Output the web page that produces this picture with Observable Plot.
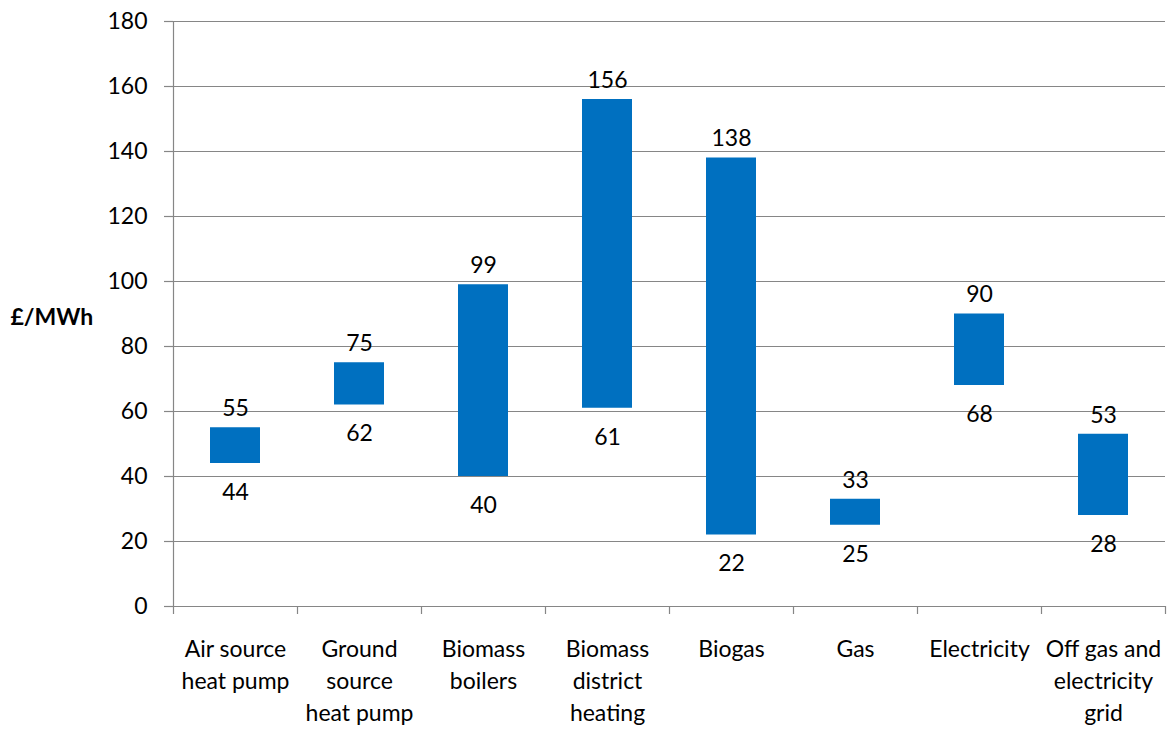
<!DOCTYPE html>
<html>
<head>
<meta charset="utf-8">
<script src="https://cdn.jsdelivr.net/npm/d3@7"></script>
<script src="https://cdn.jsdelivr.net/npm/@observablehq/plot@0.6"></script>
<style>
  html, body { margin: 0; padding: 0; background: #fff; }
  #chart svg { display: block; }
</style>
</head>
<body>
<div id="chart"></div>
<script>
// Heat technology cost ranges (£/MWh): low and high estimate per technology
const categories = [
  "Air source heat pump",
  "Ground source heat pump",
  "Biomass boilers",
  "Biomass district heating",
  "Biogas",
  "Gas",
  "Electricity",
  "Off gas and electricity grid"
];
const tickLabels = [
  "Air source\nheat pump",
  "Ground\nsource\nheat pump",
  "Biomass\nboilers",
  "Biomass\ndistrict\nheating",
  "Biogas",
  "Gas",
  "Electricity",
  "Off gas and\nelectricity\ngrid"
];
const lowCost = [44, 62, 40, 61, 22, 25, 68, 28];
const highCost = [55, 75, 99, 156, 138, 33, 90, 53];
const yTicks = [0, 20, 40, 60, 80, 100, 120, 140, 160, 180];
const yLabel = "£/MWh";

const width = 1171;
const height = 729;
const margin = {top: 21, right: 6, bottom: 123, left: 173};
const band = (width - margin.left - margin.right) / categories.length;

const rows = categories.map((category, i) => ({category, low: lowCost[i], high: highCost[i]}));
const lineColor = "#868686";
const barColor = "#0070C0";

const chart = Plot.plot({
  width,
  height,
  marginTop: margin.top,
  marginRight: margin.right,
  marginBottom: margin.bottom,
  marginLeft: margin.left,
  style: {fontFamily: "Lato, sans-serif", fontSize: "23px", color: "#000", background: "#fff"},
  x: {type: "band", domain: categories, padding: 0, label: null},
  y: {domain: [0, 180], label: null},
  marks: [
    // horizontal gridlines (the one at 0 doubles as the category axis line)
    Plot.gridY(yTicks, {stroke: lineColor, strokeOpacity: 1, strokeWidth: 1.2}),
    // value axis: outward ticks and labels
    Plot.axisY(yTicks, {tickSize: 9, tickPadding: 17, stroke: lineColor, strokeWidth: 1.2, fill: "#000", label: null}),
    // value axis line, running down past the baseline like the category ticks
    Plot.ruleX([categories[0]], {dx: -band / 2, y1: 180, y2: 0, insetBottom: -8, stroke: lineColor, strokeWidth: 1.2}),
    // category boundary ticks below the baseline
    Plot.ruleX(categories.slice(1), {dx: -band / 2, y1: 0, y2: 0, insetBottom: -8, stroke: lineColor, strokeWidth: 1.2}),
    Plot.ruleX([categories[categories.length - 1]], {dx: band / 2, y1: 0, y2: 0, insetBottom: -8, stroke: lineColor, strokeWidth: 1.2}),
    // floating cost-range bars
    Plot.barY(rows, {x: "category", y1: "low", y2: "high", fill: barColor, insetLeft: 37, insetRight: 37}),
    // range labels
    Plot.text(rows, {x: "category", y: "high", text: (d) => String(d.high), dy: -19, fill: "#000"}),
    Plot.text(rows, {x: "category", y: "low", text: (d) => String(d.low), dy: 29, fill: "#000"}),
    // category labels
    Plot.axisX({
      tickSize: 0,
      tickPadding: 27,
      tickFormat: (d) => tickLabels[categories.indexOf(d)],
      lineHeight: 1.41,
      fill: "#000",
      label: null
    }),
    // unit label
    Plot.text([yLabel], {frameAnchor: "left", dx: -163, dy: 4, textAnchor: "start", fontWeight: "bold", fill: "#000"})
  ]
});

document.getElementById("chart").appendChild(chart);
</script>
</body>
</html>
